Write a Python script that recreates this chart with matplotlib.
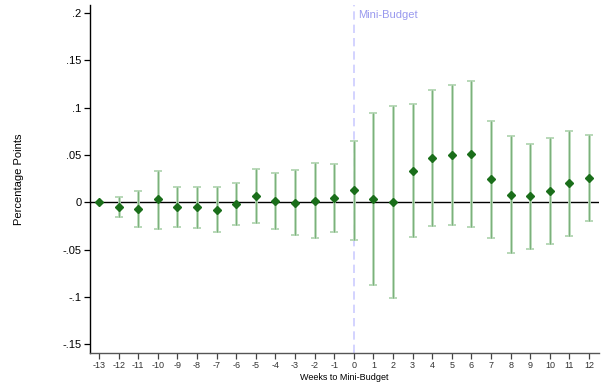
import matplotlib
matplotlib.use("Agg")
import matplotlib.pyplot as plt
import numpy as np

plt.rcParams['font.family'] = ['Liberation Sans', 'DejaVu Sans']

# weeks relative to the Mini-Budget
weeks = list(range(-13, 13))
# point estimates
coef = [0.0, -0.005, -0.0074, 0.0032, -0.005, -0.0053, -0.0081, -0.0021, 0.007, 0.001,
        -0.0004, 0.0017, 0.0049, 0.0127, 0.0038, 0.0, 0.0334, 0.0465, 0.050, 0.0514,
        0.0243, 0.008, 0.0063, 0.012, 0.020, 0.0257]
ci_hi = [0.0, 0.0056, 0.012, 0.0334, 0.0165, 0.016, 0.0159, 0.020, 0.0355, 0.0313,
         0.0338, 0.0415, 0.0408, 0.0645, 0.0944, 0.1018, 0.104, 0.1184, 0.124, 0.1285,
         0.0863, 0.070, 0.062, 0.068, 0.0757, 0.0711]
ci_lo = [0.0, -0.0152, -0.0264, -0.0279, -0.0264, -0.0268, -0.0314, -0.0243, -0.0215, -0.0285,
         -0.0342, -0.038, -0.031, -0.040, -0.087, -0.101, -0.037, -0.0247, -0.0237, -0.0258,
         -0.0374, -0.0536, -0.0494, -0.0437, -0.0353, -0.0194]
yticks = [-0.15, -0.1, -0.05, 0, 0.05, 0.1, 0.15, 0.2]
ytick_labels = ['-.15', '-.1', '-.05', '0', '.05', '.1', '.15', '.2']

x = np.array(weeks)
y = np.array(coef)
lo = np.array(ci_lo)
hi = np.array(ci_hi)
has_ci = hi > lo

fig = plt.figure(figsize=(6.08, 3.85), dpi=100)
ax = fig.add_axes([0.148, 0.084, 0.837, 0.903])

ax.axhline(0, color='black', lw=1.0, zorder=1)
ax.axvline(0, color='#ccccff', lw=1.2, ls=(0, (5, 3)), zorder=1)
ax.text(0.2, 0.198, 'Mini-Budget', color='#9999ee', fontsize=8, va='center', ha='left')

# confidence intervals: light wide bar with a darker core
ax.errorbar(x[has_ci], y[has_ci], yerr=[y[has_ci] - lo[has_ci], hi[has_ci] - y[has_ci]],
            fmt='none', ecolor='#b8d8b8', elinewidth=2.0, capsize=3.2, capthick=1.4, zorder=2)
ax.vlines(x[has_ci], lo[has_ci], hi[has_ci], color='#7ab07a', lw=0.7, zorder=3)
ax.plot(x, y, 'D', color='#1a6e1a', ms=4.5, zorder=4)

ax.set_xlim(-13.46, 12.5)
ax.set_ylim(-0.159, 0.2086)
ax.set_xticks(weeks)
ax.set_xticklabels([str(w) for w in weeks], fontsize=6.5, color='#333333')
ax.set_yticks(yticks)
ax.set_yticklabels(ytick_labels, fontsize=8)
ax.tick_params(axis='x', length=4, width=0.9, color='#444444', pad=2)
ax.tick_params(axis='y', length=4, width=0.9, pad=2)

for s in ['top', 'right']:
    ax.spines[s].set_visible(False)
ax.spines['left'].set_linewidth(1.0)
ax.spines['bottom'].set_linewidth(1.0)
ax.spines['bottom'].set_color('#555555')

ax.set_ylabel('Percentage Points', fontsize=8, labelpad=28)
ax.set_xlabel('Weeks to Mini-Budget', fontsize=6.5, labelpad=2)

fig.savefig('out.png', dpi=100)
